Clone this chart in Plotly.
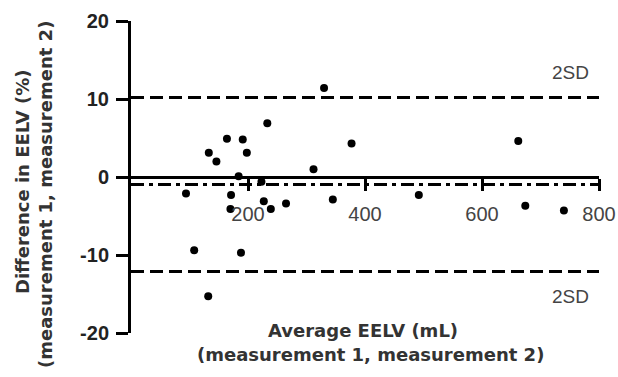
import plotly.graph_objects as go

# Data
avg_eelv = [94, 108, 132, 133, 146, 164, 170, 171, 184, 188, 191, 198, 223, 227,
            233, 239, 265, 312, 330, 345, 377, 492, 662, 674, 740]
diff_eelv = [-2.1, -9.4, -15.3, 3.1, 2.0, 4.9, -4.1, -2.3, 0.1, -9.7, 4.8, 3.1, -0.6, -3.1,
             6.9, -4.1, -3.4, 1.0, 11.4, -2.9, 4.3, -2.3, 4.6, -3.7, -4.3]
mean_diff = -0.95
upper_loa = 10.2
lower_loa = -12.1
x_ticks = [200, 400, 600, 800]
y_ticks = [-20, -10, 0, 10, 20]

W, H = 618, 377
ML, MR, MT, MB = 131, 19, 21, 44

def px_x(p):
    return (p - ML) / (W - ML - MR)

def px_y(p):
    return 1 - (p - MT) / (H - MT - MB)

fig = go.Figure()

fig.add_trace(go.Scatter(x=[0, 800], y=[upper_loa, upper_loa], mode="lines",
                         line=dict(color="black", width=3, dash="13px,6px"),
                         hoverinfo="skip", showlegend=False))
fig.add_trace(go.Scatter(x=[0, 800], y=[lower_loa, lower_loa], mode="lines",
                         line=dict(color="black", width=3, dash="13px,6px"),
                         hoverinfo="skip", showlegend=False))
fig.add_trace(go.Scatter(x=[0, 800], y=[mean_diff, mean_diff], mode="lines",
                         line=dict(color="black", width=3, dash="13px,5px,4px,5px"),
                         hoverinfo="skip", showlegend=False))
fig.add_trace(go.Scatter(x=avg_eelv, y=diff_eelv, mode="markers",
                         marker=dict(color="black", size=8),
                         showlegend=False))

fig.update_layout(
    width=W, height=H,
    margin=dict(l=ML, r=MR, t=MT, b=MB, autoexpand=False),
    plot_bgcolor="white", paper_bgcolor="white",
    showlegend=False,
    xaxis=dict(range=[0, 800], tickvals=x_ticks, ticktext=[str(v) for v in x_ticks],
               anchor="free", position=0.5, showline=True, linecolor="black", linewidth=3,
               ticks="outside", ticklen=12, tickwidth=3, tickcolor="black",
               showgrid=False, zeroline=False, automargin=False,
               tickfont=dict(family="Liberation Sans, Arial", size=20, color="#444"),
               ticklabelstandoff=6),
    yaxis=dict(range=[-20, 20], tickvals=y_ticks, ticktext=[str(v) for v in y_ticks],
               showline=True, linecolor="black", linewidth=3,
               ticks="outside", ticklen=12, tickwidth=3, tickcolor="black",
               showgrid=False, zeroline=False, automargin=False,
               tickfont=dict(family="Liberation Sans, Arial", size=20, color="#222", weight="bold"),
               ticklabelstandoff=3),
)

def note(px, py, text, font, angle=0):
    fig.add_annotation(x=px_x(px), y=px_y(py), xref="paper", yref="paper", text=text,
                       showarrow=False, font=font, textangle=angle,
                       xanchor="center", yanchor="middle")

label_font = dict(family="Liberation Sans, Arial", size=19, color="#444")
note(570, 73, "2SD", label_font)
note(570, 296, "2SD", label_font)

title_font = dict(family="DejaVu Sans", size=18, color="#333", weight="bold")
note(363, 330, "Average EELV (mL)", title_font)
note(370, 354, "(measurement 1, measurement 2)", title_font)
note(22, 182, "Difference in EELV (%)", title_font, -90)
note(45, 195, "(measurement 1, measurement 2)", title_font, -90)

fig.write_html("out.html")
